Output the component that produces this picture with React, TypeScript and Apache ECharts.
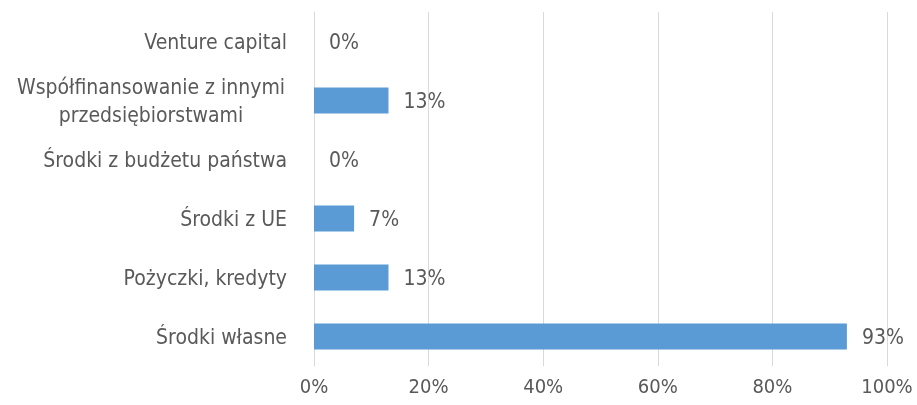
import React, { useEffect, useRef } from "react";
import * as echarts from "echarts";

const categories = [
  "Środki własne",
  "Pożyczki, kredyty",
  "Środki z UE",
  "Środki z budżetu państwa",
  "Współfinansowanie z innymi przedsiębiorstwami",
  "Venture capital",
];
const values = [93, 13, 7, 0, 13, 0];
const xTicks = [0, 20, 40, 60, 80, 100];

const FONT = '"DejaVu Sans Condensed", "Liberation Sans", sans-serif';
const TEXT = "#595959";

export default function App() {
  const ref = useRef<HTMLDivElement>(null);
  useEffect(() => {
    if (!ref.current) return;
    const chart = echarts.init(ref.current, null, { renderer: "svg" });
    chart.setOption({
      animation: false,
      grid: { left: 314, right: 30, top: 12, bottom: 39, containLabel: false },
      xAxis: {
        type: "value",
        min: xTicks[0],
        max: xTicks[xTicks.length - 1],
        interval: 20,
        axisLine: { show: false },
        axisTick: { show: false },
        splitLine: { show: true, lineStyle: { color: "#d9d9d9", width: 1 } },
        axisLabel: {
          formatter: (v: number) => v + "%",
          color: TEXT,
          fontFamily: FONT,
          fontSize: 20,
          margin: 10,
        },
      },
      yAxis: {
        type: "category",
        data: categories,
        axisLine: { show: true, lineStyle: { color: "#d9d9d9" } },
        axisTick: { show: false },
        axisLabel: {
          color: TEXT,
          fontFamily: FONT,
          fontSize: 21,
          margin: 27,
          lineHeight: 28,
          formatter: (v: string) => {
            if (v.startsWith("Współfinansowanie")) {
              return "{c|Współfinansowanie z innymi}\n{c|przedsiębiorstwami}";
            }
            return v;
          },
          rich: {
            c: {
              color: TEXT,
              fontFamily: FONT,
              fontSize: 21,
              lineHeight: 28,
              width: 272,
              align: "center",
            },
          },
        },
      },
      series: [
        {
          type: "bar",
          data: values,
          barWidth: 26,
          itemStyle: { color: "#5b9bd5", borderWidth: 0 },
          label: {
            show: true,
            position: "right",
            distance: 15,
            formatter: (p: any) => p.value + "%",
            color: TEXT,
            fontFamily: FONT,
            fontSize: 21,
          },
        },
      ],
    });
    return () => chart.dispose();
  }, []);
  return (
    <div
      ref={ref}
      style={{ position: "fixed", left: 0, top: 0, width: 917, height: 405 }}
    />
  );
}
